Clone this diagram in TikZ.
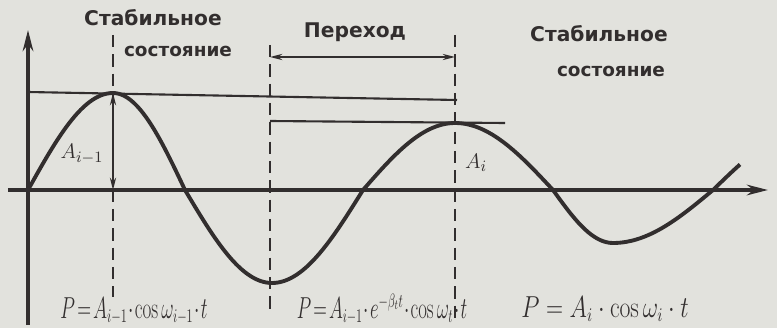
\documentclass[tikz,border=0pt]{standalone}
\usepackage[no-math]{fontspec}
\setmainfont{DejaVu Sans}
\usetikzlibrary{arrows.meta}

\definecolor{ink}{RGB}{50,46,46}
\definecolor{paper}{RGB}{226,226,221}

\tikzset{
    axis/.style={ink, line width=2pt, -{Stealth[length=12pt,width=6pt]}},
    wave/.style={ink, line width=2.2pt, line join=round},
    level/.style={ink, line width=1.2pt},
    guide/.style={ink, line width=1.3pt, dash pattern=on 7pt off 4pt},
    dim/.style={ink, line width=1pt, {Stealth[length=7pt,width=3.5pt]}-{Stealth[length=7pt,width=3.5pt]}},
    lbl/.style={ink, font=\bfseries\fontsize{11.5}{14}\selectfont, inner sep=0pt},
    lbls/.style={ink, font=\bfseries\fontsize{10.5}{12}\selectfont, inner sep=0pt},
    amp/.style={ink, font=\fontsize{13}{15}\selectfont, inner sep=0pt},
    formula/.style={ink, font=\fontsize{16}{18}\selectfont, inner sep=0pt}
}
\newcommand{\narrow}[2]{\scalebox{#1}[1]{#2}}

\begin{document}
\begin{tikzpicture}[x=0.02cm, y=0.02cm]
    \fill[paper] (-28,-138) rectangle (749,190);
    \useasboundingbox (-28,-138) rectangle (749,190);

    % axes
    \coordinate (O) at (0,0);
    \coordinate (ybot) at (0,-135);
    \coordinate (ytop) at (0,160);
    \coordinate (xleft) at (-20,0);
    \coordinate (xright) at (740,0);
    \draw[axis] (ybot) -- (ytop);
    \draw[axis] (xleft) -- (xright);

    % guide lines
    \foreach \n/\x/\a/\b in {g1/85/155/-107, g2/242/145/-120, g3/427/155/-133} {
        \coordinate (\n top) at (\x,\a);
        \coordinate (\n bot) at (\x,\b);
        \draw[guide] (\n top) -- (\n bot);
    }

    % amplitude levels
    \coordinate (lev1a) at (0,98);
    \coordinate (lev1b) at (429,90);
    \coordinate (lev2a) at (242,69);
    \coordinate (lev2b) at (477,67);
    \draw[level] (lev1a) -- (lev1b);
    \draw[level] (lev2a) -- (lev2b);

    % the wave
    \draw[wave]
        plot[domain=0:85, samples=30] (\x,{97*sin(90*\x/85)})
        -- plot[domain=85:157, samples=25] (\x,{97*cos(90*(\x-85)/72)})
        -- plot[domain=157:244, samples=30] (\x,{-93*sin(90*(\x-157)/87)})
        -- plot[domain=244:335, samples=30] (\x,{-93*cos(90*(\x-244)/91)})
        -- plot[domain=335:427, samples=30] (\x,{67*sin(90*(\x-335)/92)})
        -- plot[domain=427:525, samples=30] (\x,{67*cos(90*(\x-427)/98)})
        -- plot[domain=525:585, samples=20] (\x,{-53*sin(90*(\x-525)/60)})
        -- plot[domain=585:685, samples=30] (\x,{-53*cos(90*(\x-585)/100)})
        -- plot[domain=685:712, samples=10] (\x,{62*sin(90*(\x-685)/100)});

    % amplitude A_{i-1}
    \coordinate (peak1) at (85,97);
    \coordinate (foot1) at (85,0);
    \draw[dim] (foot1) -- (peak1);
    \node[amp] (amp1) at (54,36) {$A_{i-1}$};
    \node[amp] (amp2) at (448,27) {$A_i$};

    % transition span
    \coordinate (spanl) at (242,133);
    \coordinate (spanr) at (427,133);
    \draw[dim] (spanl) -- (spanr);

    % headings
    \node[lbl] (st1) at (125,172) {Стабильное};
    \node[lbls] (sost1) at (150,139) {состояние};
    \node[lbl] (trans) at (327,158) {Переход};
    \node[lbl] (st2) at (571,156) {Стабильное};
    \node[lbls] (sost2) at (583,119) {состояние};

    % formulas
    \node[formula] (f1) at (106,-121) {\narrow{0.63}{$P\!=\!A_{i-1}\!\cdot\!\cos\omega_{i-1}\!\cdot\! t$}};
    \node[formula] (f2) at (354,-119) {\narrow{0.62}{$P\!=\!A_{i-1}\!\cdot\! e^{-\beta_t t}\!\cdot\!\cos\omega_t\!\cdot\! t$}};
    \node[formula] (f3) at (577,-119) {\narrow{0.78}{$P=A_i\cdot\cos\omega_i\cdot t$}};
\end{tikzpicture}
\end{document}
